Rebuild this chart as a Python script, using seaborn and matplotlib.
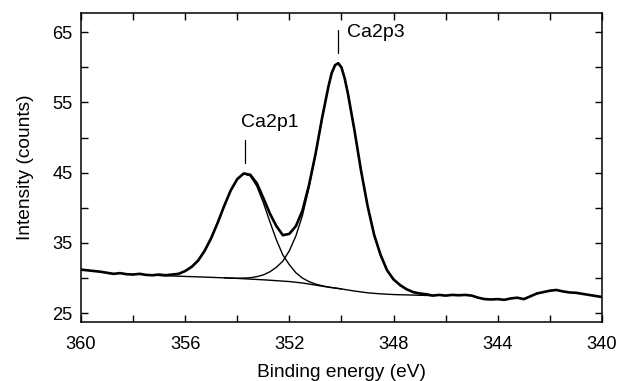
import numpy as np
import pandas as pd
import matplotlib
matplotlib.use("Agg")
import matplotlib.pyplot as plt
import seaborn as sns

# ---- data ----
energy = [360.0, 359.75, 359.5, 359.25, 359.0, 358.75, 358.5, 358.25, 358.0, 357.75,
          357.5, 357.25, 357.0, 356.75, 356.5, 356.25, 356.0, 355.75, 355.5, 355.25,
          355.0, 354.75, 354.5, 354.25, 354.0, 353.75, 353.5, 353.25, 353.0, 352.75,
          352.5, 352.25, 352.0, 351.75, 351.5, 351.25, 351.0, 350.75, 350.5, 350.375,
          350.25, 350.125, 350.0, 349.875, 349.75, 349.5, 349.25, 349.0, 348.75, 348.5,
          348.25, 348.0, 347.75, 347.5, 347.25, 347.0, 346.75, 346.5, 346.25, 346.0,
          345.75, 345.5, 345.25, 345.0, 344.75, 344.5, 344.25, 344.0, 343.75, 343.5,
          343.25, 343.0, 342.75, 342.5, 342.25, 342.0, 341.75, 341.5, 341.25, 341.0,
          340.75, 340.5, 340.25, 340.0]
intensity = [31.2, 31.1, 31.0, 30.9, 30.75, 30.6, 30.7, 30.55, 30.5, 30.6,
             30.45, 30.4, 30.5, 30.4, 30.5, 30.6, 31.0, 31.6, 32.5, 33.9,
             35.7, 37.9, 40.3, 42.5, 44.1, 44.9, 44.7, 43.5, 41.4, 39.2,
             37.4, 36.1, 36.3, 37.4, 39.6, 43.2, 47.6, 52.7, 57.3, 59.2,
             60.3, 60.6, 60.0, 58.4, 56.2, 51.0, 45.3, 40.3, 36.2, 33.3,
             31.1, 29.8, 29.0, 28.4, 28.0, 27.8, 27.7, 27.5, 27.6, 27.5,
             27.6, 27.55, 27.6, 27.5, 27.2, 27.0, 26.95, 27.0, 26.9, 27.1,
             27.2, 27.0, 27.4, 27.8, 28.0, 28.2, 28.3, 28.1, 27.95, 27.9,
             27.75, 27.6, 27.45, 27.3]

bg_energy = [357.0, 356.5, 356.0, 355.5, 355.0, 354.5, 354.0, 353.5, 353.0, 352.5,
             352.0, 351.5, 351.0, 350.5, 350.0, 349.5, 349.0, 348.5, 348.0, 347.5,
             347.0, 346.5]
background = [30.35, 30.3, 30.23, 30.17, 30.1, 30.03, 29.95, 29.85, 29.75, 29.63,
              29.5, 29.3, 29.0, 28.7, 28.45, 28.15, 27.9, 27.75, 27.65, 27.6,
              27.55, 27.5]

p1_energy = [357.0, 356.5, 356.25, 356.0, 355.75, 355.5, 355.25, 355.0, 354.75, 354.5,
             354.25, 354.0, 353.75, 353.5, 353.25, 353.0, 352.75, 352.5, 352.25, 352.0,
             351.75, 351.5, 351.25, 351.0, 350.75, 350.5, 350.0]
ca2p1 = [30.38, 30.48, 30.64, 30.97, 31.56, 32.52, 33.89, 35.73, 37.92, 40.27,
         42.44, 44.07, 44.85, 44.55, 43.08, 40.74, 38.04, 35.45, 33.28, 31.9,
         30.75, 30.0, 29.5, 29.15, 28.91, 28.72, 28.45]

p3_energy = [354.5, 354.0, 353.75, 353.5, 353.25, 353.0, 352.75, 352.5, 352.25, 352.0,
             351.75, 351.5, 351.25, 351.0, 350.75, 350.5, 350.375, 350.25, 350.125, 350.0,
             349.875, 349.75, 349.5, 349.25, 349.0, 348.75, 348.5, 348.25, 348.0, 347.75,
             347.5, 347.25, 347.0, 346.75, 346.5]
ca2p3 = [30.03, 29.97, 30.0, 30.05, 30.2, 30.45, 30.89, 31.53, 32.41, 33.9,
         36.0, 38.9, 42.85, 47.5, 52.65, 57.3, 59.2, 60.25, 60.55, 59.9,
         58.4, 56.2, 50.95, 45.32, 40.3, 36.22, 33.25, 31.1, 29.75, 28.95,
         28.4, 28.03, 27.8, 27.62, 27.55]

xtick_values = [360, 358, 356, 354, 352, 350, 348, 346, 344, 342, 340]
xtick_labels = ["360", "", "356", "", "352", "", "348", "", "344", "", "340"]
ytick_values = [25, 30, 35, 40, 45, 50, 55, 60, 65]
ytick_labels = ["25", "", "35", "", "45", "", "55", "", "65"]

peak_labels = ["Ca2p1", "Ca2p3"]
peak_pos = [353.7, 350.13]

# ---- plotting ----
sns.set_theme(style="ticks")
plt.rcParams["font.family"] = ["Liberation Sans", "DejaVu Sans"]
plt.rcParams["text.color"] = "black"
plt.rcParams["axes.labelcolor"] = "black"

fig = plt.figure(figsize=(6.21, 3.81), dpi=100)
ax = fig.add_axes([0.1304, 0.155, 0.839, 0.811])

spec = pd.DataFrame({"E": energy, "I": intensity})
bg = pd.DataFrame({"E": bg_energy, "I": background})
c1 = pd.DataFrame({"E": p1_energy, "I": ca2p1})
c3 = pd.DataFrame({"E": p3_energy, "I": ca2p3})

for df in (bg, c1, c3):
    sns.lineplot(data=df, x="E", y="I", ax=ax, color="black", lw=1.0,
                 estimator=None, sort=True)
sns.lineplot(data=spec, x="E", y="I", ax=ax, color="black", lw=1.9,
             estimator=None, sort=True)

ax.set_xlim(360, 340)
ax.set_ylim(23.75, 67.75)
ax.set_xticks(xtick_values)
ax.set_xticklabels(xtick_labels)
ax.set_yticks(ytick_values)
ax.set_yticklabels(ytick_labels)
ax.tick_params(direction="in", top=True, right=True, length=5, width=1.0,
               labelsize=13.2, colors="black")
ax.tick_params(axis="x", pad=10)
ax.tick_params(axis="y", pad=6)
for s in ax.spines.values():
    s.set_linewidth(1.1)
    s.set_color("black")

ax.set_xlabel("Binding energy (eV)", fontsize=13.8, labelpad=8)
ax.set_ylabel("Intensity (counts)", fontsize=13.8, labelpad=13)

# peak annotations
ax.plot([peak_pos[0], peak_pos[0]], [46.4, 49.6], color="black", lw=0.9)
ax.text(353.86, 52.1, peak_labels[0], fontsize=14, ha="left", va="center")
ax.plot([peak_pos[1], peak_pos[1]], [62.0, 65.3], color="black", lw=0.9)
ax.text(349.79, 65.0, peak_labels[1], fontsize=14, ha="left", va="center")

fig.savefig("out.png", dpi=100)
